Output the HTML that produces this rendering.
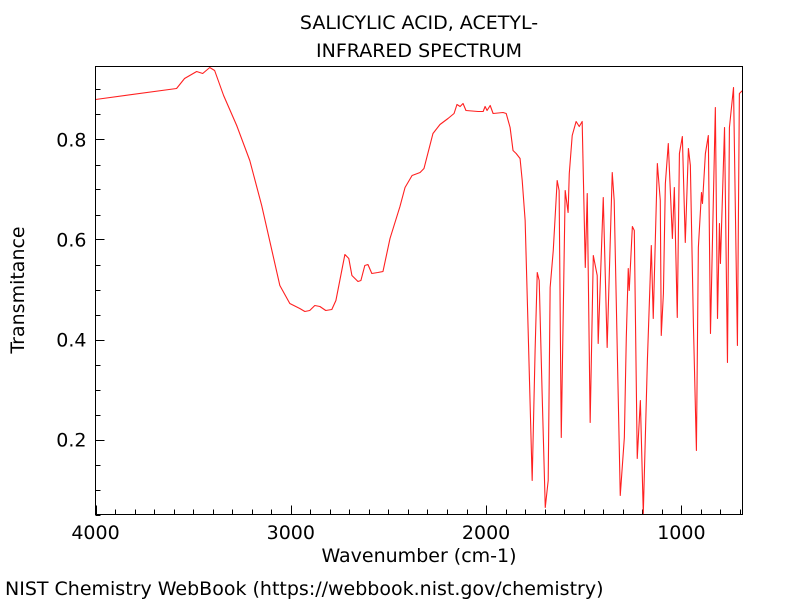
<!DOCTYPE html>
<html><head><meta charset="utf-8"><style>
html,body{margin:0;padding:0;background:#fff;}
svg{display:block;font-family:"DejaVu Sans","Liberation Sans",sans-serif;}
</style></head><body>
<svg id="chart" width="800" height="600" viewBox="0 0 800 600">
<text x="419" y="29" font-size="19" text-anchor="middle">SALICYLIC ACID, ACETYL-</text>
<text x="419" y="57" font-size="19" text-anchor="middle">INFRARED SPECTRUM</text>
<defs><clipPath id="pc"><rect x="95.5" y="66.5" width="647" height="448"/></clipPath></defs>
<g id="ticks"></g>
<path id="line" fill="none" stroke="#ff2020" stroke-width="1.1" stroke-linejoin="round" clip-path="url(#pc)"/>
<rect x="95.5" y="66.5" width="647" height="448" fill="none" stroke="#000" stroke-width="1"/>
<text x="419" y="562" font-size="19" text-anchor="middle">Wavenumber (cm-1)</text>
<text transform="translate(24,290) rotate(-90)" font-size="19" text-anchor="middle">Transmitance</text>
<text x="5" y="595" font-size="19">NIST Chemistry WebBook (https://webbook.nist.gov/chemistry)</text>
</svg>
<script>
const wavenumbers=[4000,3585,3544,3482,3451,3415,3390,3344,3277,3210,3149,3056,3005,2954,2928,2903,2877,2851,2821,2790,2769,2749,2723,2703,2687,2656,2641,2621,2605,2585,2554,2528,2492,2441,2415,2379,2338,2318,2272,2236,2195,2164,2149,2133,2118,2103,2041,2015,2005,1995,1979,1964,1913,1897,1877,1862,1846,1826,1815,1800,1785,1764,1749,1738,1728,1713,1697,1682,1672,1656,1636,1626,1615,1595,1580,1574,1559,1539,1523,1508,1492,1482,1467,1451,1431,1426,1400,1380,1354,1344,1313,1292,1282,1272,1267,1251,1241,1226,1210,1195,1174,1154,1144,1123,1108,1103,1092,1082,1067,1046,1036,1021,1010,995,980,964,954,938,923,913,897,892,877,862,851,826,815,805,800,779,764,754,733,713,703,687,682];
const transmittance=[.880,.902,.922,.936,.932,.944,.938,.888,.828,.758,.668,.508,.472,.462,.456,.458,.468,.466,.458,.460,.478,.518,.570,.562,.528,.516,.518,.548,.550,.532,.534,.536,.602,.666,.704,.728,.734,.742,.812,.830,.842,.852,.870,.866,.872,.858,.856,.856,.866,.858,.868,.852,.854,.852,.824,.778,.772,.762,.718,.638,.424,.118,.378,.534,.518,.292,.064,.118,.504,.578,.718,.698,.204,.698,.654,.732,.808,.836,.826,.836,.544,.692,.234,.568,.528,.392,.684,.384,.734,.678,.088,.204,.404,.542,.498,.626,.618,.162,.278,.052,.358,.588,.442,.752,.678,.408,.492,.712,.792,.602,.704,.444,.772,.806,.594,.782,.748,.424,.178,.584,.694,.672,.772,.808,.412,.864,.442,.632,.552,.824,.354,.824,.904,.388,.892,.898,.832];
const xTickLabels=[4000,3000,2000,1000];
const yTickLabels=[0.2,0.4,0.6,0.8];
const L=95.5,R=742.5,T=66.5,B=514.5;
const xMin=4000,xMax=687,yMin=0.05,yMax=0.946;
function xs(w){return L+(xMin-w)/(xMin-xMax)*(R-L);}
function ys(v){return B-(v-yMin)/(yMax-yMin)*(B-T);}
const NS="http://www.w3.org/2000/svg";
const g=document.getElementById('ticks');
function ln(x1,y1,x2,y2,name){const l=document.createElementNS(NS,'line');
l.setAttribute('x1',x1);l.setAttribute('y1',y1);l.setAttribute('x2',x2);l.setAttribute('y2',y2);
l.setAttribute('stroke','#000');l.setAttribute('stroke-width','1');


g.appendChild(l);}
function tx(x,y,s,anchor,name){const t=document.createElementNS(NS,'text');
t.setAttribute('x',x);t.setAttribute('y',y);t.setAttribute('font-size','19');t.setAttribute('text-anchor',anchor);t.textContent=s;


g.appendChild(t);}
for(let w=4000;w>=700;w-=100){const x=Math.round(xs(w))+0.5;const major=w%1000===0;ln(x,B,x,B-(major?9:5),'x-tick');}
xTickLabels.forEach(w=>tx(xs(w),539,String(w),'middle','x-tick-label'));
for(let i=1;i<=18;i++){const v=i*0.05;if(v>yMax)break;const y=Math.round(ys(v))+0.5;const major=Math.abs((v*10)%2)<1e-6||Math.abs((v*10)%2-2)<1e-6;ln(L,y,L+(major?9:5),y,'y-tick');}
yTickLabels.forEach(v=>tx(L-9,ys(v)+7,v.toFixed(1),'end','y-tick-label'));
let d='';wavenumbers.forEach((w,i)=>{d+=(i?'L':'M')+xs(w).toFixed(2)+','+ys(transmittance[i]).toFixed(2);});
document.getElementById('line').setAttribute('d',d);
</script>
</body></html>
